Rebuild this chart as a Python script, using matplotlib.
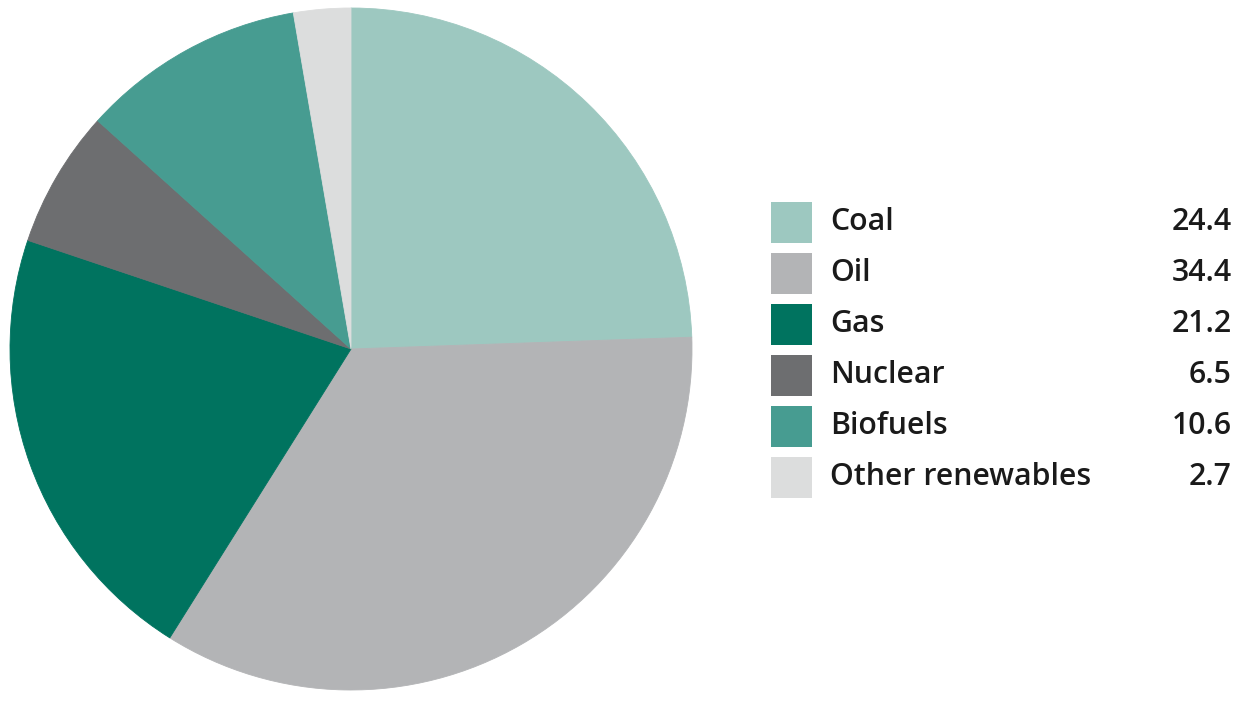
import matplotlib.pyplot as plt
from matplotlib.patches import Rectangle

labels = ['Coal', 'Oil', 'Gas', 'Nuclear', 'Biofuels', 'Other renewables']
values = [24.4, 34.4, 21.2, 6.5, 10.6, 2.7]
value_text = ['24.4', '34.4', '21.2', '6.5', '10.6', '2.7']
colors = ['#9dc8c0', '#b3b4b6', '#00735f', '#6d6e70', '#479c91', '#dcdddd']

W, H = 1245, 704
fig = plt.figure(figsize=(W / 100, H / 100), dpi=100)
fig.patch.set_facecolor('white')

# pie: center ~ (351, 349) px, radius ~341 px
cx, cy, r = 351, 349, 341
ax = fig.add_axes([(cx - r) / W, (H - cy - r) / H, 2 * r / W, 2 * r / H])
wedges, _ = ax.pie(values, colors=colors, startangle=90, counterclock=False,
                   radius=1.0, wedgeprops=dict(linewidth=0.6, antialiased=True))
for w, c in zip(wedges, colors):
    w.set_edgecolor(c)
ax.set_xlim(-1, 1)
ax.set_ylim(-1, 1)
ax.set_aspect('equal')
ax.axis('off')

# legend drawn in pixel space
lg = fig.add_axes([0, 0, 1, 1])
lg.set_xlim(0, W)
lg.set_ylim(H, 0)
lg.axis('off')
top0, step, size = 202, 51.0, 41
for i, (lab, val, col) in enumerate(zip(labels, value_text, colors)):
    y = top0 + i * step
    lg.add_patch(Rectangle((771, y), size, size, facecolor=col, edgecolor='none'))
    lg.text(830, y + 28, lab, fontsize=21.8, family='Open Sans', weight='semibold',
            color='#1a1a1a', va='baseline', ha='left')
    lg.text(1232, y + 28, val, fontsize=21.8, family='Open Sans', weight='semibold',
            color='#1a1a1a', va='baseline', ha='right')

fig.savefig('out.png', dpi=100, facecolor='white')
